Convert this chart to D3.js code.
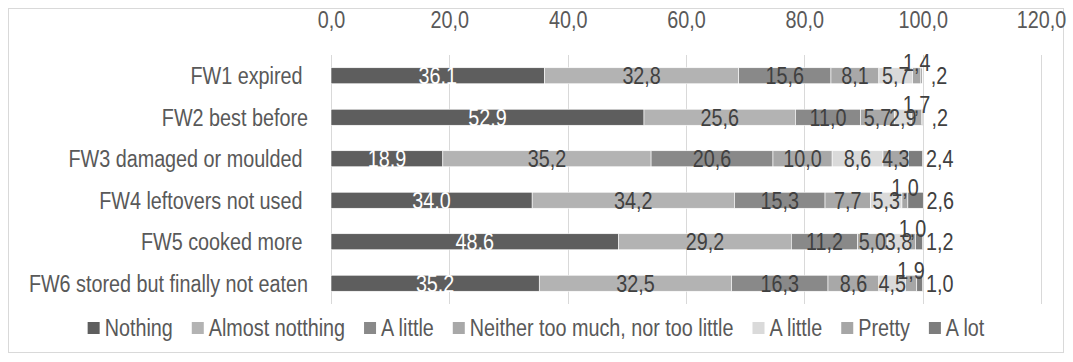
<!DOCTYPE html>
<html>
<head>
<meta charset="utf-8">
<script src="https://cdn.jsdelivr.net/npm/d3@7"></script>
<style>
  html, body { margin: 0; padding: 0; background: #fff; }
  svg text { font-family: "Liberation Sans Narrow", "Arial Narrow", "Liberation Sans", Arial, sans-serif; white-space: pre; }
</style>
</head>
<body>
<svg id="chart" width="1073" height="362"></svg>
<script>
// Food-waste survey: share of answers per item (%)
const categories = [
  "FW1 expired ",
  "FW2 best before",
  "FW3 damaged or moulded ",
  "FW4 leftovers not used ",
  "FW5 cooked more ",
  "FW6 stored but finally not eaten"
];
const seriesNames = [
  "Nothing", "Almost notthing", "A little",
  "Neither too much, nor too little", "A little", "Pretty", "A lot"
];
const nothing       = [36.1, 52.9, 18.9, 34.0, 48.6, 35.2];
const almostNothing = [32.8, 25.6, 35.2, 34.2, 29.2, 32.5];
const aLittle       = [15.6, 11.0, 20.6, 15.3, 11.2, 16.3];
const neither       = [8.1, 5.7, 10.0, 7.7, 5.0, 8.6];
const aLittle2      = [5.7, 2.9, 8.6, 5.3, 3.8, 4.5];
const pretty        = [1.4, 1.7, 4.3, 1.0, 1.0, 1.9];
const aLot          = [0.2, 0.2, 2.4, 2.6, 1.2, 1.0];
const seriesValues = [nothing, almostNothing, aLittle, neither, aLittle2, pretty, aLot];
const xTicks = [0, 20, 40, 60, 80, 100, 120];

const colors = ["#5e5e5e", "#b3b3b3", "#898989", "#a8a8a8", "#dadada", "#a6a6a6", "#7d7d7d"];

const svg = d3.select("#chart");
const plot = { left: 331, right: 1041, top: 55, bottom: 304 };
const fontSize = 23;

// narrow lettering: a condensed face is emulated by squeezing the glyphs horizontally
const probe = svg.append("text").attr("font-size", fontSize).text("Nothing");
const hasNarrow = probe.node().getComputedTextLength() < 72;
probe.remove();
const sx = hasNarrow ? 1 : 0.86;

function label(parent, px, py, str, anchor, fill) {
  return parent.append("text")
    .attr("x", px / sx).attr("y", py)
    .attr("transform", `scale(${sx},1)`)
    .attr("dy", "0.36em")
    .attr("text-anchor", anchor)
    .attr("font-size", fontSize)
    .attr("fill", fill)
    .text(str);
}

// chart frame
svg.append("rect")
  .attr("x", 8.5).attr("y", 8.5)
  .attr("width", 1055).attr("height", 344)
  .attr("fill", "#fff").attr("stroke", "#d9d9d9").attr("stroke-width", 1);

const x = d3.scaleLinear().domain([0, 120]).range([plot.left, plot.right]);
const y = d3.scaleBand().domain(categories)
  .range([plot.top, plot.bottom])
  .paddingInner(0.614).paddingOuter(0.307);

const fmt = (v, sep) => {
  let s = v.toFixed(1).replace(".", sep);
  if (v < 1) s = s.replace(/^0/, "");
  return s;
};

// vertical gridlines
svg.append("g").selectAll("line").data(xTicks).join("line")
  .attr("x1", d => Math.round(x(d)) + 0.5).attr("x2", d => Math.round(x(d)) + 0.5)
  .attr("y1", plot.top).attr("y2", plot.bottom)
  .attr("stroke", "#d9d9d9").attr("stroke-width", 1);

// top axis
const axis = d3.axisTop(x).tickValues(xTicks).tickSize(0).tickPadding(0)
  .tickFormat(d => d.toFixed(1).replace(".", ","));
const ax = svg.append("g").attr("transform", `translate(0, 20)`).call(axis);
ax.select(".domain").remove();
ax.selectAll("text")
  .attr("font-size", fontSize).attr("fill", "#595959")
  .attr("dy", "0.36em").attr("y", 0)
  .attr("transform", `scale(${sx},1)`)
  .style("font-family", null);

// category labels
const catG = svg.append("g");
categories.forEach(c => label(catG, 308, y(c) + y.bandwidth() / 2, c, "end", "#595959"));

// stacked segments
const table = categories.map((c, i) => {
  const row = { cat: c };
  seriesValues.forEach((arr, s) => { row["s" + s] = arr[i]; });
  return row;
});
const keys = seriesValues.map((_, s) => "s" + s);
const stacked = d3.stack().keys(keys)(table);

const layers = svg.append("g").selectAll("g").data(stacked).join("g")
  .attr("fill", (d, i) => colors[i]);

layers.selectAll("rect").data(d => d).join("rect")
  .attr("x", d => x(d[0]))
  .attr("y", d => y(d.data.cat))
  .attr("width", d => x(d[1]) - x(d[0]))
  .attr("height", y.bandwidth())
  .attr("stroke", "#ffffff").attr("stroke-width", 0.6);

// data labels
const labels = svg.append("g");
stacked.forEach((layer, s) => {
  layer.forEach(d => {
    const val = seriesValues[s][categories.indexOf(d.data.cat)];
    let cx = (x(d[0]) + x(d[1])) / 2;
    let cy = y(d.data.cat) + y.bandwidth() / 2;
    if (s === 6) cx = x(d[1]) + 17;           // last slice: beside the bar end
    if (s === 5 && val < 3) cy -= 13;          // thin slice: lifted above the bar
    label(labels, cx, cy, s === 0 ? fmt(val, ".") : fmt(val, ","), "middle",
      s === 0 ? "#ffffff" : "#404040");
  });
});

// legend
const legend = svg.append("g");
const gap = 19;
let cursor = 0;
seriesNames.forEach((name, i) => {
  const g = legend.append("g").attr("transform", `translate(${cursor},0)`);
  g.append("rect").attr("x", 0).attr("y", -6).attr("width", 12).attr("height", 12).attr("fill", colors[i]);
  const t = label(g, 17, 0, name, "start", "#595959");
  const w = 17 + t.node().getComputedTextLength() * sx;
  cursor += w + gap;
});
const total = cursor - gap;
legend.attr("transform", `translate(${536 - total / 2}, 328)`);
</script>
</body>
</html>
